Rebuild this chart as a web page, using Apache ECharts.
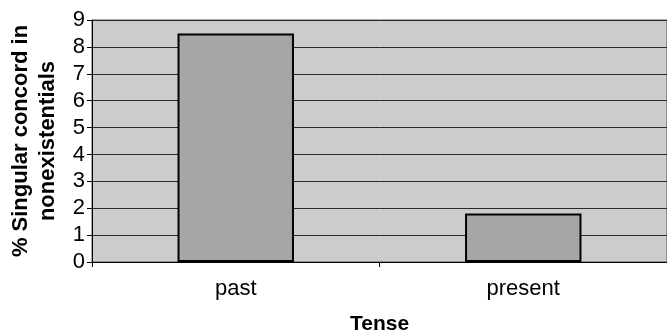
<!DOCTYPE html>
<html>
<head>
<meta charset="utf-8">
<script src="https://cdn.jsdelivr.net/npm/echarts@6/dist/echarts.min.js"></script>
<style>
  html, body { margin: 0; padding: 0; background: #fff; }
  #chart { width: 667px; height: 331px; }
</style>
</head>
<body>
<div id="chart"></div>
<script>
// Share of singular concord in nonexistentials, by tense
const categories = ['past', 'present'];
const singularShare = [8.5, 1.8];
const yTicks = [0, 1, 2, 3, 4, 5, 6, 7, 8, 9];

const chart = echarts.init(document.getElementById('chart'), null, { renderer: 'canvas' });

chart.setOption({
  backgroundColor: '#ffffff',
  animation: false,
  grid: {
    left: 92, right: 0, top: 20, bottom: 69,
    containLabel: false,
    outerBoundsMode: 'none',
    show: true,
    backgroundColor: '#cccccc',
    borderColor: '#555555',
    borderWidth: 1
  },
  xAxis: {
    type: 'category',
    data: categories,
    name: 'Tense',
    nameLocation: 'middle',
    nameGap: 52,
    nameTextStyle: { fontFamily: 'Liberation Sans', fontWeight: 'bold', fontSize: 21, color: '#000' },
    axisLine: { lineStyle: { color: '#000', width: 1 } },
    axisTick: { show: true, length: 5, lineStyle: { color: '#000' } },
    axisLabel: { fontFamily: 'Liberation Sans', fontSize: 22, color: '#000', margin: 16 }
  },
  yAxis: {
    type: 'value',
    min: 0,
    max: 9,
    interval: 1,
    name: '% Singular concord in\nnonexistentials',
    nameLocation: 'middle',
    nameGap: 31,
    nameTextStyle: { fontFamily: 'Liberation Sans', fontWeight: 'bold', fontSize: 22, color: '#000', lineHeight: 27 },
    axisLine: { show: true, lineStyle: { color: '#000', width: 1 } },
    axisTick: { show: true, length: 5, lineStyle: { color: '#000' } },
    axisLabel: {
      fontFamily: 'Liberation Sans', fontSize: 22, color: '#000', margin: 7,
      formatter: v => yTicks.includes(v) ? String(v) : ''
    },
    splitLine: { show: true, lineStyle: { color: '#2a2a2a', width: 1 } }
  },
  series: [{
    type: 'bar',
    data: singularShare,
    barWidth: '40.5%',
    itemStyle: { color: '#a6a6a6', borderColor: '#000', borderWidth: 2 }
  }]
});
</script>
</body>
</html>
